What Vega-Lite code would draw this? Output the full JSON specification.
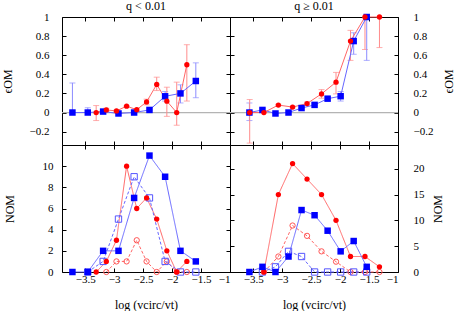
{
"$schema":"https://vega.github.io/schema/vega-lite/v6.json",
"background":"white",
"padding":{"left":0,"top":-1,"right":0,"bottom":0},
"config":{
 "view":{"stroke":"#000","strokeWidth":1},
 "font":"Liberation Serif",
 "axis":{"labelFont":"Liberation Serif","labelFontSize":11,"titleFont":"Liberation Serif","titleFontSize":12,"titleFontWeight":"normal","labelColor":"#000","titleColor":"#000","tickColor":"#000","domain":false,"grid":false,"tickSize":-4},
 "title":{"font":"Liberation Serif","fontSize":12,"fontWeight":"normal","offset":-2,"color":"#000"},
 "legend":{"disable":true}
},
"spacing":0,
"bounds":"flush",
"columns":2,
"concat":[
  {"width":168,"height":128,
   "title":{"text":"q < 0.01"},
   "data":{"values":[
    {"x":-3.72,"y":0,"lo":0,"hi":0.31,"s":"blue"},
    {"x":-3.455,"y":0,"lo":0,"hi":0.05,"s":"blue"},
    {"x":-3.19,"y":0.01,"lo":0.01,"hi":0.01,"s":"blue"},
    {"x":-2.925,"y":-0.01,"lo":-0.01,"hi":-0.01,"s":"blue"},
    {"x":-2.655,"y":0,"lo":0,"hi":0,"s":"blue"},
    {"x":-2.39,"y":0.027,"lo":0.02,"hi":0.035,"s":"blue"},
    {"x":-2.12,"y":0.17,"lo":0.12,"hi":0.22,"s":"blue"},
    {"x":-1.855,"y":0.2,"lo":0.1,"hi":0.29,"s":"blue"},
    {"x":-1.59,"y":0.33,"lo":0.155,"hi":0.52,"s":"blue"},
    {"x":-3.31,"y":0,"lo":-0.084,"hi":0.073,"s":"red"},
    {"x":-3.135,"y":0.027,"lo":0.01,"hi":0.045,"s":"red"},
    {"x":-2.96,"y":0.017,"lo":0.01,"hi":0.025,"s":"red"},
    {"x":-2.785,"y":0.066,"lo":0.06,"hi":0.072,"s":"red"},
    {"x":-2.61,"y":0.03,"lo":0.02,"hi":0.04,"s":"red"},
    {"x":-2.44,"y":0.111,"lo":0.08,"hi":0.14,"s":"red"},
    {"x":-2.265,"y":0.294,"lo":0.23,"hi":0.37,"s":"red"},
    {"x":-2.09,"y":0.119,"lo":-0.04,"hi":0.265,"s":"red"},
    {"x":-1.92,"y":0,"lo":-0.133,"hi":0.318,"s":"red"},
    {"x":-1.745,"y":0.5,"lo":0.12,"hi":0.71,"s":"red"}
   ]},
   "layer":[
    {"mark":{"type":"rule","color":"#b4b4b4","strokeWidth":1},"encoding":{"y":{"datum":0,"type":"quantitative","scale":{"domain":[-0.34,1],"nice":false,"zero":false},"axis":null}}},
    {"mark":{"type":"errorbar","ticks":{"size":6},"thickness":1},"encoding":{
      "x":{"field":"x","type":"quantitative","scale":{"domain":[-3.9,-1],"nice":false,"zero":false},"axis":null},
      "y":{"field":"lo","type":"quantitative","scale":{"domain":[-0.34,1],"nice":false,"zero":false},"axis":null},
      "y2":{"field":"hi"},
      "color":{"field":"s","type":"nominal","scale":{"domain":["red","blue"],"range":["#ff8c8c","#8c8cff"]},"legend":null}}},
    {"mark":{"type":"line","strokeWidth":1},"encoding":{
      "x":{"field":"x","type":"quantitative","scale":{"domain":[-3.9,-1],"nice":false,"zero":false},"axis":null},
      "y":{"field":"y","type":"quantitative","scale":{"domain":[-0.34,1],"nice":false,"zero":false},"axis":null},
      "color":{"field":"s","type":"nominal","scale":{"domain":["red","blue"],"range":["#ff6666","#6666ff"]},"legend":null}}},
    {"mark":{"type":"point","filled":true,"opacity":1},"encoding":{
      "x":{"field":"x","type":"quantitative","scale":{"domain":[-3.9,-1],"nice":false,"zero":false},"axis":{"orient":"bottom","values":[-3.5,-3,-2.5,-2,-1.5,-1],"labels":false,"title":null}},
      "y":{"field":"y","type":"quantitative","scale":{"domain":[-0.34,1],"nice":false,"zero":false},"axis":{"orient":"left","values":[-0.2,0,0.2,0.4,0.6,0.8,1],"format":"~g","title":"ϵOM","labelPadding":17,"titlePadding":15}},
      "color":{"field":"s","type":"nominal","scale":{"domain":["red","blue"],"range":["#ff0000","#0000ff"]},"legend":null},
      "shape":{"field":"s","type":"nominal","scale":{"domain":["red","blue"],"range":["circle","square"]},"legend":null},
      "size":{"field":"s","type":"nominal","scale":{"domain":["red","blue"],"range":[28,42]},"legend":null}}},
    {"mark":{"type":"point","opacity":0},"encoding":{
      "x":{"field":"x","type":"quantitative","scale":{"domain":[-3.9,-1],"nice":false,"zero":false},"axis":{"orient":"top","values":[-3.5,-3,-2.5,-2,-1.5,-1],"labels":false,"title":null}},
      "y":{"field":"y","type":"quantitative","scale":{"domain":[-0.34,1],"nice":false,"zero":false},"axis":{"orient":"right","values":[-0.2,0,0.2,0.4,0.6,0.8,1],"labels":false,"title":null}}}}
   ],
   "resolve":{"scale":{"color":"independent","shape":"independent","size":"independent"},"axis":{"x":"independent","y":"independent"}}
  },
  {"width":168,"height":128,
   "title":{"text":"q ≥ 0.01"},
   "data":{"values":[
    {"x":-3.565,"y":0,"lo":-0.084,"hi":0.1,"s":"blue"},
    {"x":-3.34,"y":0.027,"lo":0.015,"hi":0.04,"s":"blue"},
    {"x":-3.115,"y":-0.01,"lo":-0.01,"hi":-0.01,"s":"blue"},
    {"x":-2.89,"y":0,"lo":0,"hi":0,"s":"blue"},
    {"x":-2.665,"y":0.047,"lo":0.04,"hi":0.055,"s":"blue"},
    {"x":-2.44,"y":0.08,"lo":0.072,"hi":0.088,"s":"blue"},
    {"x":-2.215,"y":0.145,"lo":0.13,"hi":0.165,"s":"blue"},
    {"x":-1.99,"y":0.171,"lo":0.12,"hi":0.22,"s":"blue"},
    {"x":-1.765,"y":0.748,"lo":0.61,"hi":0.835,"s":"blue"},
    {"x":-1.54,"y":1,"lo":0.546,"hi":1,"s":"blue"},
    {"x":-3.56,"y":0,"lo":-0.32,"hi":0.136,"s":"red"},
    {"x":-3.315,"y":0,"lo":0,"hi":0,"s":"red"},
    {"x":-3.065,"y":0.078,"lo":0.07,"hi":0.086,"s":"red"},
    {"x":-2.82,"y":0.057,"lo":0.05,"hi":0.064,"s":"red"},
    {"x":-2.57,"y":0.094,"lo":0.08,"hi":0.11,"s":"red"},
    {"x":-2.32,"y":0.195,"lo":0.15,"hi":0.24,"s":"red"},
    {"x":-2.07,"y":0.318,"lo":0.195,"hi":0.42,"s":"red"},
    {"x":-1.82,"y":0.748,"lo":0.546,"hi":0.86,"s":"red"},
    {"x":-1.57,"y":1,"lo":0.66,"hi":1,"s":"red"},
    {"x":-1.32,"y":1,"lo":0.68,"hi":1,"s":"red"}
   ]},
   "layer":[
    {"mark":{"type":"rule","color":"#b4b4b4","strokeWidth":1},"encoding":{"y":{"datum":0,"type":"quantitative","scale":{"domain":[-0.34,1],"nice":false,"zero":false},"axis":null}}},
    {"mark":{"type":"errorbar","ticks":{"size":6},"thickness":1},"encoding":{
      "x":{"field":"x","type":"quantitative","scale":{"domain":[-3.9,-1],"nice":false,"zero":false},"axis":null},
      "y":{"field":"lo","type":"quantitative","scale":{"domain":[-0.34,1],"nice":false,"zero":false},"axis":null},
      "y2":{"field":"hi"},
      "color":{"field":"s","type":"nominal","scale":{"domain":["red","blue"],"range":["#ff8c8c","#8c8cff"]},"legend":null}}},
    {"mark":{"type":"line","strokeWidth":1},"encoding":{
      "x":{"field":"x","type":"quantitative","scale":{"domain":[-3.9,-1],"nice":false,"zero":false},"axis":null},
      "y":{"field":"y","type":"quantitative","scale":{"domain":[-0.34,1],"nice":false,"zero":false},"axis":null},
      "color":{"field":"s","type":"nominal","scale":{"domain":["red","blue"],"range":["#ff6666","#6666ff"]},"legend":null}}},
    {"mark":{"type":"point","filled":true,"opacity":1},"encoding":{
      "x":{"field":"x","type":"quantitative","scale":{"domain":[-3.9,-1],"nice":false,"zero":false},"axis":{"orient":"bottom","values":[-3.5,-3,-2.5,-2,-1.5,-1],"labels":false,"title":null}},
      "y":{"field":"y","type":"quantitative","scale":{"domain":[-0.34,1],"nice":false,"zero":false},"axis":{"orient":"right","values":[-0.2,0,0.2,0.4,0.6,0.8,1],"format":"~g","title":"ϵOM","titleAngle":270,"labelPadding":19,"titlePadding":23}},
      "color":{"field":"s","type":"nominal","scale":{"domain":["red","blue"],"range":["#ff0000","#0000ff"]},"legend":null},
      "shape":{"field":"s","type":"nominal","scale":{"domain":["red","blue"],"range":["circle","square"]},"legend":null},
      "size":{"field":"s","type":"nominal","scale":{"domain":["red","blue"],"range":[28,42]},"legend":null}}},
    {"mark":{"type":"point","opacity":0},"encoding":{
      "x":{"field":"x","type":"quantitative","scale":{"domain":[-3.9,-1],"nice":false,"zero":false},"axis":{"orient":"top","values":[-3.5,-3,-2.5,-2,-1.5,-1],"labels":false,"title":null}},
      "y":{"field":"y","type":"quantitative","scale":{"domain":[-0.34,1],"nice":false,"zero":false},"axis":{"orient":"left","values":[-0.2,0,0.2,0.4,0.6,0.8,1],"labels":false,"title":null}}}}
   ],
   "resolve":{"scale":{"color":"independent","shape":"independent","size":"independent"},"axis":{"x":"independent","y":"independent"}}
  },
  {"width":168,"height":127,
   "data":{"values":[
    {"x":-3.31,"n":0,"s":"red","f":"filled"},
    {"x":-3.135,"n":1,"s":"red","f":"filled"},
    {"x":-2.96,"n":3,"s":"red","f":"filled"},
    {"x":-2.785,"n":10,"s":"red","f":"filled"},
    {"x":-2.61,"n":6,"s":"red","f":"filled"},
    {"x":-2.44,"n":7,"s":"red","f":"filled"},
    {"x":-2.265,"n":5,"s":"red","f":"filled"},
    {"x":-2.09,"n":2,"s":"red","f":"filled"},
    {"x":-1.92,"n":0,"s":"red","f":"filled"},
    {"x":-1.745,"n":1,"s":"red","f":"filled"},
    {"x":-3.135,"n":0,"s":"red","f":"open"},
    {"x":-2.96,"n":1,"s":"red","f":"open"},
    {"x":-2.785,"n":1,"s":"red","f":"open"},
    {"x":-2.61,"n":3,"s":"red","f":"open"},
    {"x":-2.44,"n":1,"s":"red","f":"open"},
    {"x":-2.265,"n":0,"s":"red","f":"open"},
    {"x":-2.09,"n":1,"s":"red","f":"open"},
    {"x":-1.92,"n":0,"s":"red","f":"open"},
    {"x":-1.745,"n":0,"s":"red","f":"open"},
    {"x":-3.72,"n":0,"s":"blue","f":"filled"},
    {"x":-3.455,"n":0,"s":"blue","f":"filled"},
    {"x":-3.19,"n":2,"s":"blue","f":"filled"},
    {"x":-2.925,"n":2,"s":"blue","f":"filled"},
    {"x":-2.655,"n":7,"s":"blue","f":"filled"},
    {"x":-2.39,"n":11,"s":"blue","f":"filled"},
    {"x":-2.12,"n":9,"s":"blue","f":"filled"},
    {"x":-1.855,"n":2,"s":"blue","f":"filled"},
    {"x":-1.59,"n":1,"s":"blue","f":"filled"},
    {"x":-3.455,"n":0,"s":"blue","f":"open"},
    {"x":-3.19,"n":1,"s":"blue","f":"open"},
    {"x":-2.925,"n":5,"s":"blue","f":"open"},
    {"x":-2.655,"n":9,"s":"blue","f":"open"},
    {"x":-2.39,"n":7,"s":"blue","f":"open"},
    {"x":-2.12,"n":1,"s":"blue","f":"open"},
    {"x":-1.855,"n":0,"s":"blue","f":"open"},
    {"x":-1.59,"n":0,"s":"blue","f":"open"}
   ]},
   "layer":[
    {"mark":{"type":"line","strokeWidth":1},"encoding":{
      "x":{"field":"x","type":"quantitative","scale":{"domain":[-3.9,-1],"nice":false,"zero":false},"axis":null},
      "y":{"field":"n","type":"quantitative","scale":{"domain":[0,12],"nice":false,"zero":false},"axis":null},
      "color":{"field":"s","type":"nominal","scale":{"domain":["red","blue"],"range":["#ff6666","#6666ff"]},"legend":null},
      "strokeDash":{"field":"f","type":"nominal","scale":{"domain":["filled","open"],"range":[[1,0],[3,2]]},"legend":null}}},
    {"transform":[{"filter":"datum.f === 'open'"}],
     "mark":{"type":"point","filled":false,"strokeWidth":1,"opacity":1},"encoding":{
      "x":{"field":"x","type":"quantitative","scale":{"domain":[-3.9,-1],"nice":false,"zero":false},"axis":null},
      "y":{"field":"n","type":"quantitative","scale":{"domain":[0,12],"nice":false,"zero":false},"axis":null},
      "color":{"field":"s","type":"nominal","scale":{"domain":["red","blue"],"range":["#ff5555","#5555ff"]},"legend":null},
      "shape":{"field":"s","type":"nominal","scale":{"domain":["red","blue"],"range":["circle","square"]},"legend":null},
      "size":{"field":"s","type":"nominal","scale":{"domain":["red","blue"],"range":[28,40]},"legend":null}}},
    {"transform":[{"filter":"datum.f === 'filled'"}],
     "mark":{"type":"point","filled":true,"opacity":1},"encoding":{
      "x":{"field":"x","type":"quantitative","scale":{"domain":[-3.9,-1],"nice":false,"zero":false},"axis":{"orient":"bottom","values":[-3.5,-3,-2.5,-2,-1.5,-1],"format":"~g","labelPadding":5,"title":"log (vcirc/vt)","titlePadding":15}},
      "y":{"field":"n","type":"quantitative","scale":{"domain":[0,12],"nice":false,"zero":false},"axis":{"orient":"left","values":[0,2,4,6,8,10],"format":"~g","title":"NOM","labelPadding":13,"titlePadding":26}},
      "color":{"field":"s","type":"nominal","scale":{"domain":["red","blue"],"range":["#ff0000","#0000ff"]},"legend":null},
      "shape":{"field":"s","type":"nominal","scale":{"domain":["red","blue"],"range":["circle","square"]},"legend":null},
      "size":{"field":"s","type":"nominal","scale":{"domain":["red","blue"],"range":[28,42]},"legend":null}}},
    {"mark":{"type":"point","opacity":0},"encoding":{
      "x":{"field":"x","type":"quantitative","scale":{"domain":[-3.9,-1],"nice":false,"zero":false},"axis":{"orient":"top","values":[-3.5,-3,-2.5,-2,-1.5,-1],"labels":false,"title":null}},
      "y":{"field":"n","type":"quantitative","scale":{"domain":[0,12],"nice":false,"zero":false},"axis":{"orient":"right","values":[0,2,4,6,8,10],"labels":false,"title":null}}}}
   ],
   "resolve":{"scale":{"color":"independent","shape":"independent","size":"independent","strokeDash":"independent"},"axis":{"x":"independent","y":"independent"}}
  },
  {"width":168,"height":127,
   "data":{"values":[
    {"x":-3.315,"n":0,"s":"red","f":"filled"},
    {"x":-3.065,"n":15,"s":"red","f":"filled"},
    {"x":-2.82,"n":21,"s":"red","f":"filled"},
    {"x":-2.57,"n":18,"s":"red","f":"filled"},
    {"x":-2.32,"n":15,"s":"red","f":"filled"},
    {"x":-2.07,"n":10,"s":"red","f":"filled"},
    {"x":-1.82,"n":3,"s":"red","f":"filled"},
    {"x":-1.57,"n":3,"s":"red","f":"filled"},
    {"x":-1.32,"n":1,"s":"red","f":"filled"},
    {"x":-3.315,"n":0,"s":"red","f":"open"},
    {"x":-3.065,"n":3,"s":"red","f":"open"},
    {"x":-2.82,"n":9,"s":"red","f":"open"},
    {"x":-2.57,"n":7,"s":"red","f":"open"},
    {"x":-2.32,"n":4,"s":"red","f":"open"},
    {"x":-2.07,"n":2,"s":"red","f":"open"},
    {"x":-1.82,"n":0,"s":"red","f":"open"},
    {"x":-1.57,"n":0,"s":"red","f":"open"},
    {"x":-1.32,"n":0,"s":"red","f":"open"},
    {"x":-3.565,"n":0,"s":"blue","f":"filled"},
    {"x":-3.34,"n":1,"s":"blue","f":"filled"},
    {"x":-3.115,"n":0,"s":"blue","f":"filled"},
    {"x":-2.89,"n":3,"s":"blue","f":"filled"},
    {"x":-2.665,"n":12,"s":"blue","f":"filled"},
    {"x":-2.44,"n":11,"s":"blue","f":"filled"},
    {"x":-2.215,"n":8,"s":"blue","f":"filled"},
    {"x":-1.99,"n":4,"s":"blue","f":"filled"},
    {"x":-1.765,"n":6,"s":"blue","f":"filled"},
    {"x":-1.54,"n":1,"s":"blue","f":"filled"},
    {"x":-3.34,"n":0,"s":"blue","f":"open"},
    {"x":-3.115,"n":1,"s":"blue","f":"open"},
    {"x":-2.89,"n":4,"s":"blue","f":"open"},
    {"x":-2.665,"n":3,"s":"blue","f":"open"},
    {"x":-2.44,"n":0,"s":"blue","f":"open"},
    {"x":-2.215,"n":0,"s":"blue","f":"open"},
    {"x":-1.99,"n":0,"s":"blue","f":"open"},
    {"x":-1.765,"n":0,"s":"blue","f":"open"},
    {"x":-1.54,"n":0,"s":"blue","f":"open"}
   ]},
   "layer":[
    {"mark":{"type":"line","strokeWidth":1},"encoding":{
      "x":{"field":"x","type":"quantitative","scale":{"domain":[-3.9,-1],"nice":false,"zero":false},"axis":null},
      "y":{"field":"n","type":"quantitative","scale":{"domain":[0,24.6],"nice":false,"zero":false},"axis":null},
      "color":{"field":"s","type":"nominal","scale":{"domain":["red","blue"],"range":["#ff6666","#6666ff"]},"legend":null},
      "strokeDash":{"field":"f","type":"nominal","scale":{"domain":["filled","open"],"range":[[1,0],[3,2]]},"legend":null}}},
    {"transform":[{"filter":"datum.f === 'open'"}],
     "mark":{"type":"point","filled":false,"strokeWidth":1,"opacity":1},"encoding":{
      "x":{"field":"x","type":"quantitative","scale":{"domain":[-3.9,-1],"nice":false,"zero":false},"axis":null},
      "y":{"field":"n","type":"quantitative","scale":{"domain":[0,24.6],"nice":false,"zero":false},"axis":null},
      "color":{"field":"s","type":"nominal","scale":{"domain":["red","blue"],"range":["#ff5555","#5555ff"]},"legend":null},
      "shape":{"field":"s","type":"nominal","scale":{"domain":["red","blue"],"range":["circle","square"]},"legend":null},
      "size":{"field":"s","type":"nominal","scale":{"domain":["red","blue"],"range":[28,40]},"legend":null}}},
    {"transform":[{"filter":"datum.f === 'filled'"}],
     "mark":{"type":"point","filled":true,"opacity":1},"encoding":{
      "x":{"field":"x","type":"quantitative","scale":{"domain":[-3.9,-1],"nice":false,"zero":false},"axis":{"orient":"bottom","values":[-3.5,-3,-2.5,-2,-1.5,-1],"format":"~g","labelPadding":5,"title":"log (vcirc/vt)","titlePadding":15}},
      "y":{"field":"n","type":"quantitative","scale":{"domain":[0,24.6],"nice":false,"zero":false},"axis":{"orient":"right","values":[0,5,10,15,20],"format":"~g","title":"NOM","titleAngle":270,"labelPadding":19,"titlePadding":20}},
      "color":{"field":"s","type":"nominal","scale":{"domain":["red","blue"],"range":["#ff0000","#0000ff"]},"legend":null},
      "shape":{"field":"s","type":"nominal","scale":{"domain":["red","blue"],"range":["circle","square"]},"legend":null},
      "size":{"field":"s","type":"nominal","scale":{"domain":["red","blue"],"range":[28,42]},"legend":null}}},
    {"mark":{"type":"point","opacity":0},"encoding":{
      "x":{"field":"x","type":"quantitative","scale":{"domain":[-3.9,-1],"nice":false,"zero":false},"axis":{"orient":"top","values":[-3.5,-3,-2.5,-2,-1.5,-1],"labels":false,"title":null}},
      "y":{"field":"n","type":"quantitative","scale":{"domain":[0,24.6],"nice":false,"zero":false},"axis":{"orient":"left","values":[0,5,10,15,20],"labels":false,"title":null}}}}
   ],
   "resolve":{"scale":{"color":"independent","shape":"independent","size":"independent","strokeDash":"independent"},"axis":{"x":"independent","y":"independent"}}
  }
]
}
